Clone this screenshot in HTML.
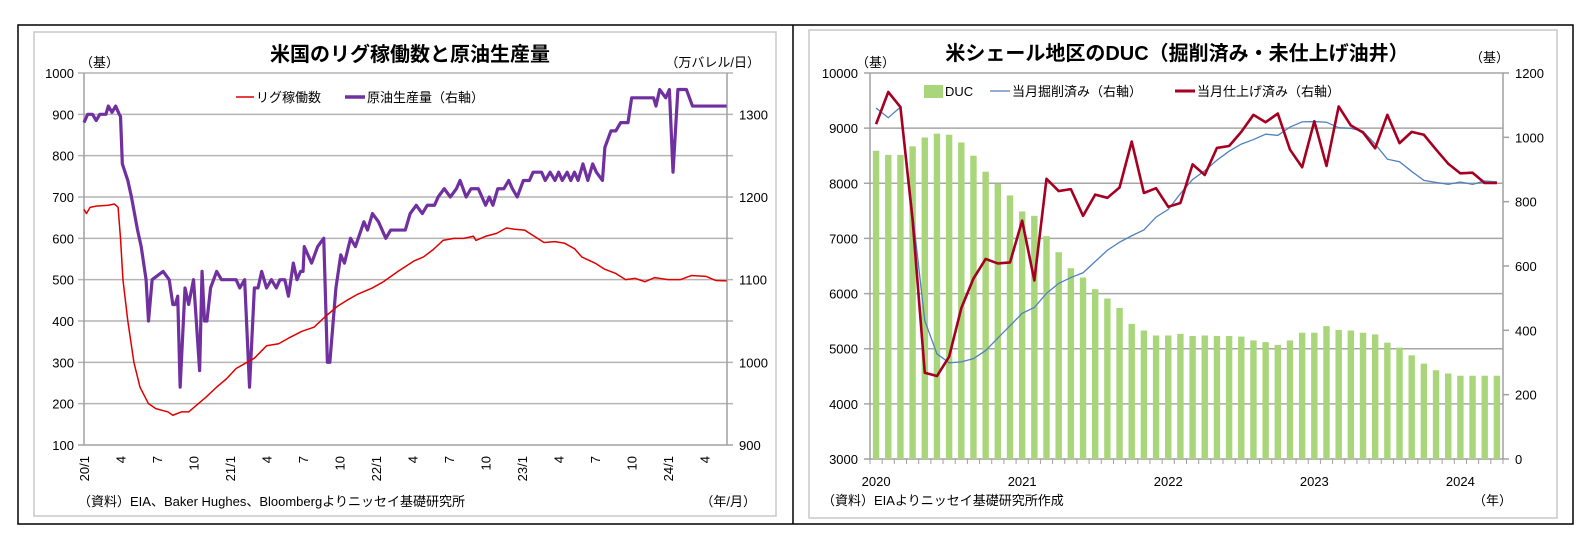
<!DOCTYPE html>
<html><head><meta charset="utf-8">
<style>
html,body{margin:0;padding:0;background:#fff;}
svg{display:block;font-family:"Liberation Sans","Noto Sans CJK JP",sans-serif;}
</style></head>
<body>
<svg id="root" width="1591" height="556" viewBox="0 0 1591 556">
  <rect x="18" y="25" width="1555" height="499" fill="none" stroke="#000" stroke-width="1.5"/>
  <line x1="793" y1="25" x2="793" y2="524" stroke="#000" stroke-width="1.5"/>
  <g id="left">
    <rect x="34" y="32" width="742" height="484" fill="#fff" stroke="#c8c8c8" stroke-width="1.5"/>
    <text x="410" y="61" font-size="20" font-weight="bold" text-anchor="middle">米国のリグ稼働数と原油生産量</text>
    <text x="80" y="67" font-size="13">（基）</text>
    <text x="760" y="67" font-size="13" text-anchor="end">（万バレル/日）</text>
    <g id="leftGrid"></g>
    <g id="leftTicks"></g>
    <g id="leftSeries"></g>
    <g>
      <line x1="236" y1="97" x2="254" y2="97" stroke="#e00000" stroke-width="1.5"/>
      <text x="256" y="102" font-size="13">リグ稼働数</text>
      <line x1="345" y1="97" x2="365" y2="97" stroke="#7030a0" stroke-width="3.5"/>
      <text x="367" y="102" font-size="13">原油生産量（右軸）</text>
    </g>
    <text x="78" y="506" font-size="13">（資料）EIA、Baker Hughes、Bloombergよりニッセイ基礎研究所</text>
    <text x="756" y="506" font-size="13" text-anchor="end">（年/月）</text>
  </g>
  <g id="right">
    <rect x="809" y="30" width="748" height="488" fill="#fff" stroke="#c8c8c8" stroke-width="1.5"/>
    <text x="1177" y="60" font-size="20" font-weight="bold" text-anchor="middle">米シェール地区のDUC（掘削済み・未仕上げ油井）</text>
    <text x="856" y="67" font-size="13">（基）</text>
    <text x="1470" y="62" font-size="13">（基）</text>
    <g id="rightGrid"></g>
    <g id="rightBars"></g>
    <g id="rightTicks"></g>
    <g id="rightSeries"></g>
    <g>
      <rect x="924" y="85" width="19" height="13" fill="#a9d67a"/>
      <text x="945" y="96" font-size="13">DUC</text>
      <line x1="990" y1="91" x2="1010" y2="91" stroke="#4f81bd" stroke-width="1.2"/>
      <text x="1012" y="96" font-size="13">当月掘削済み（右軸）</text>
      <line x1="1175" y1="91" x2="1195" y2="91" stroke="#a50021" stroke-width="3"/>
      <text x="1197" y="96" font-size="13">当月仕上げ済み（右軸）</text>
    </g>
    <text x="822" y="505" font-size="13">（資料）EIAよりニッセイ基礎研究所作成</text>
    <text x="1512" y="505" font-size="13" text-anchor="end">（年）</text>
  </g>
</svg>
<script>
// ---- Left chart data ----
const rigT=[0,0.2,0.5,1,2,2.5,2.8,3.0,3.2,3.6,4.1,4.6,5.3,5.9,6.9,7.3,8.0,8.6,9.2,10,10.9,11.7,12.5,13.4,14,15,16,16.9,17.9,18.9,19.8,20.8,21.6,22.5,23.7,24.6,25.8,27.1,27.9,28.7,29.5,30.4,31.2,32,32.2,33,33.9,34.7,35.4,36.2,37,37.8,38.7,39.5,40.3,40.9,42,42.8,43.7,44.5,45.3,46.1,46.9,48,49,49.9,51.1,51.9,52.8];
const rigV=[670,660,675,678,680,683,675,600,500,400,300,240,200,188,180,172,180,180,195,215,240,260,285,300,310,340,345,360,375,385,410,435,450,465,480,495,520,545,555,573,595,600,600,605,595,605,612,625,622,620,605,590,592,588,575,555,540,525,515,500,503,495,505,500,500,510,508,498,497];
const prodT=[0,0.3,0.7,1.0,1.3,1.8,2.0,2.3,2.6,2.9,3.0,3.15,3.6,3.9,4.4,4.7,5.1,5.3,5.6,6.5,7.0,7.3,7.5,7.7,7.9,8.3,8.6,9.0,9.5,9.7,9.9,10.1,10.4,10.9,11.3,12.5,12.8,13.2,13.6,14,14.3,14.6,15,15.4,15.8,16.1,16.5,16.8,17.2,17.5,17.8,18.0,18.1,18.7,19.2,19.7,20,20.2,20.7,21.1,21.4,21.9,22.3,23,23.3,23.7,24.2,24.8,25.2,26.4,26.8,27.3,27.8,28.2,28.8,29.1,29.6,30.1,30.6,30.9,31.4,31.8,32.4,32.7,33,33.3,33.6,34,34.5,34.9,35.2,35.6,36.1,36.6,36.9,37.6,37.9,38.3,38.7,39,39.3,39.7,40,40.3,40.6,41,41.4,41.8,42.1,42.6,42.8,43.3,43.7,44.1,44.7,45,46.8,47.0,47.3,47.8,48.1,48.4,48.8,49.5,50,52.8];
const prodV=[1290,1300,1300,1292.5,1300,1300,1310,1302.5,1310,1300,1297.5,1240,1220,1200,1160,1140,1100,1050,1100,1110,1100,1070,1070,1080,970,1090,1070,1100,990,1110,1050,1050,1090,1110,1100,1100,1090,1100,970,1090,1090,1110,1090,1100,1090,1100,1100,1080,1120,1100,1110,1110,1140,1120,1140,1150,1000,1000,1090,1130,1120,1150,1140,1170,1160,1180,1170,1150,1160,1160,1180,1190,1180,1190,1190,1200,1210,1200,1210,1220,1200,1210,1210,1200,1190,1200,1190,1210,1210,1220,1210,1200,1220,1220,1230,1230,1220,1230,1220,1230,1220,1230,1220,1230,1220,1240,1220,1240,1230,1220,1260,1280,1280,1290,1290,1320,1320,1310,1330,1320,1330,1230,1330,1330,1310,1310];
const leftYTicks=[100,200,300,400,500,600,700,800,900,1000];
const rightYTicksL=[900,1000,1100,1200,1300];
const leftXLabels=["20/1","4","7","10","21/1","4","7","10","22/1","4","7","10","23/1","4","7","10","24/1","4"];

// ---- Right chart data ----
const ducYears=["2020","2021","2022","2023","2024"];
const ducV=[8590,8515,8515,8670,8830,8900,8880,8740,8500,8210,7990,7780,7490,7410,7040,6750,6460,6290,6080,5910,5740,5450,5330,5240,5240,5270,5230,5240,5230,5230,5220,5150,5120,5070,5150,5290,5290,5410,5340,5330,5290,5260,5110,5020,4880,4730,4610,4550,4510,4510,4510,4510];
const drilledV=[1091,1061,1094,765,430,327,299,302,312,337,376,414,453,471,515,546,564,579,614,649,674,694,712,752,776,825,869,896,929,957,979,993,1010,1006,1032,1048,1049,1047,1030,1028,1019,979,932,924,894,866,860,854,861,854,864,862];
const completedV=[1041,1141,1094,743,268,258,318,469,561,622,608,611,741,555,871,833,839,756,822,812,844,987,827,842,784,796,916,883,967,973,1017,1070,1047,1074,962,907,1050,911,1096,1037,1015,966,1070,982,1017,1008,962,918,888,890,858,858];
const ducTicksL=[3000,4000,5000,6000,7000,8000,9000,10000];
const ducTicksR=[0,200,400,600,800,1000,1200];

const NS="http://www.w3.org/2000/svg";
function mk(tag,attrs,parent,txt){const e=document.createElementNS(NS,tag);for(const k in attrs)e.setAttribute(k,attrs[k]);if(txt!==undefined)e.textContent=txt;parent.appendChild(e);return e;}

// Left axes
const LX0=84,LX1=727,LPM=12.17,LY0=445,LY1=73;
function xL(m){return LX0+m*LPM;}
function yL(v){return LY0-(v-100)/900*(LY0-LY1);}
function yLR(p){return yL(100+(p-900)*2);}

const lg=document.getElementById('leftGrid');
const lt=document.getElementById('leftTicks');
leftYTicks.forEach(v=>{
  const l=mk('line',{x1:LX0-6,x2:LX1+6,y1:yL(v),y2:yL(v),stroke:v===100?'#a0a0a0':'#b4b4b4','stroke-width':1.5},lg);
  
  
  const t=mk('text',{x:LX0-10,y:yL(v)+5,'font-size':13,'text-anchor':'end'},lt,String(v));
  
  
});
rightYTicksL.forEach(v=>{
  const t=mk('text',{x:LX1+12,y:yLR(v)+5,'font-size':13},lt,String(v));
  
  
});
{const a=mk('line',{x1:LX0,x2:LX0,y1:LY1,y2:LY0,stroke:'#a0a0a0','stroke-width':1.5},lg);
 const b=mk('line',{x1:LX1,x2:LX1,y1:LY1,y2:LY0,stroke:'#a0a0a0','stroke-width':1.5},lg);}
leftXLabels.forEach((s,i)=>{
  const x=xL(i*3);
  const t=mk('text',{x:0,y:0,'font-size':13,'text-anchor':'end',transform:`translate(${x+5},456) rotate(-90)`},lt,s);
  
  
});
const ls=document.getElementById('leftSeries');
{const pp=mk('polyline',{points:prodT.map((t,i)=>xL(t)+','+yLR(prodV[i])).join(' '),fill:'none',stroke:'#7030a0','stroke-width':3.2,'stroke-linejoin':'round'},ls);
 
 const rp=mk('polyline',{points:rigT.map((t,i)=>xL(t)+','+yL(rigV[i])).join(' '),fill:'none',stroke:'#e00000','stroke-width':1.5,'stroke-linejoin':'round'},ls);
 }

// Right axes
const RX0=870,RX1=1503,RY0=459,RY1=73;
const RW=(RX1-RX0)/ducV.length;
function xR(i){return RX0+(i+0.5)*RW;}
function yRL(v){return RY0-(v-3000)/7000*(RY0-RY1);}
function yRR(v){return RY0-v/1200*(RY0-RY1);}
const rg=document.getElementById('rightGrid');
const rt=document.getElementById('rightTicks');
ducTicksL.forEach(v=>{
  const l=mk('line',{x1:RX0-6,x2:RX1,y1:yRL(v),y2:yRL(v),stroke:v===3000?'#a0a0a0':'#a6a6a6','stroke-width':1.5},rg);
  
  
  const t=mk('text',{x:RX0-12,y:yRL(v)+5,'font-size':13,'text-anchor':'end'},rt,String(v));
  
  
});
ducTicksR.forEach(v=>{
  const l=mk('line',{x1:RX1,x2:RX1+6,y1:yRR(v),y2:yRR(v),stroke:'#a0a0a0','stroke-width':1.5},rt);
  
  
  const t=mk('text',{x:RX1+12,y:yRR(v)+5,'font-size':13},rt,String(v));
  
  
});
{const a=mk('line',{x1:RX0,x2:RX0,y1:RY1,y2:RY0,stroke:'#a0a0a0','stroke-width':1.5},rt);
 const b=mk('line',{x1:RX1,x2:RX1,y1:RY1,y2:RY0,stroke:'#a0a0a0','stroke-width':1.5},rt);}
for(let i=0;i<=ducV.length;i++){
  const x=RX0+i*RW;
  const l=mk('line',{x1:x,x2:x,y1:RY0,y2:RY0+5,stroke:'#a0a0a0','stroke-width':1},rt);
  
  
}
ducYears.forEach((s,k)=>{
  const t=mk('text',{x:xR(k*12),y:486,'font-size':13,'text-anchor':'middle'},rt,s);
  
  
});
const rb=document.getElementById('rightBars');
ducV.forEach((v,i)=>{
  const y=yRL(v);
  const r=mk('rect',{x:xR(i)-3.2,y:y,width:6.4,height:RY0-y,fill:'#a9d67a'},rb);
  
  
});
const rs=document.getElementById('rightSeries');
{const d=mk('polyline',{points:drilledV.map((v,i)=>xR(i)+','+yRR(v)).join(' '),fill:'none',stroke:'#4f81bd','stroke-width':1.3},rs);
 
 const c=mk('polyline',{points:completedV.map((v,i)=>xR(i)+','+yRR(v)).join(' '),fill:'none',stroke:'#a50021','stroke-width':2.6,'stroke-linejoin':'round'},rs);
 }
</script>
</body></html>
